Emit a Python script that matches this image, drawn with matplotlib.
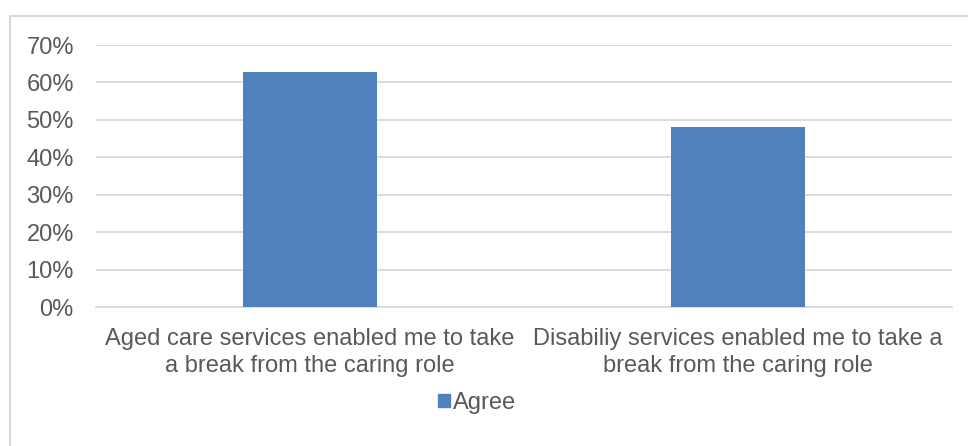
import matplotlib
matplotlib.use("Agg")
import matplotlib.pyplot as plt
from matplotlib.patches import Rectangle, Patch
from matplotlib.ticker import FuncFormatter, MultipleLocator

categories = ["Aged care services enabled me to take\na break from the caring role",
              "Disabiliy services enabled me to take a\nbreak from the caring role"]
agree = [0.627, 0.48]
series_name = "Agree"

plt.rcParams['font.family'] = ['Liberation Sans', 'DejaVu Sans']
TEXT = '#595959'
GRID = '#D9D9D9'
BAR = '#4F81BD'
FS = 17

W, H = 968, 446
fig = plt.figure(figsize=(W/100, H/100), dpi=100)
fig.patches.append(Rectangle((10/W, -0.1), 1.2, (H-16)/H + 0.1, transform=fig.transFigure,
                             fill=False, edgecolor=GRID, linewidth=1.5))
ax = fig.add_axes([96/W, (H-307)/H, (952-96)/W, (307-45)/H])
x = list(range(len(categories)))
ax.bar(x, agree, width=0.313, color=BAR, zorder=3)
ax.set_xlim(-0.5, len(categories)-0.5)
ax.set_ylim(0, 0.7)
ax.yaxis.set_major_locator(MultipleLocator(0.1))
ax.yaxis.set_major_formatter(FuncFormatter(lambda v, p: f"{v*100:.0f}%"))
ax.grid(axis='y', color=GRID, linewidth=1.3, zorder=0)
for s in ['top', 'right', 'left']:
    ax.spines[s].set_visible(False)
ax.spines['bottom'].set_color(GRID)
ax.spines['bottom'].set_linewidth(1.3)
ax.set_xticks(x)
ax.set_xticklabels(categories, linespacing=1.3)
ax.tick_params(axis='both', length=0, labelsize=FS, colors=TEXT)
ax.tick_params(axis='x', pad=15)
ax.tick_params(axis='y', pad=16)
leg = fig.legend(handles=[Patch(color=BAR, label=series_name)], loc='center',
                 bbox_to_anchor=(477/W, (H-403)/H), frameon=False, fontsize=FS,
                 handlelength=0.5, handleheight=0.5, handletextpad=0.15, labelcolor=TEXT)
fig.savefig("out.png", dpi=100)
